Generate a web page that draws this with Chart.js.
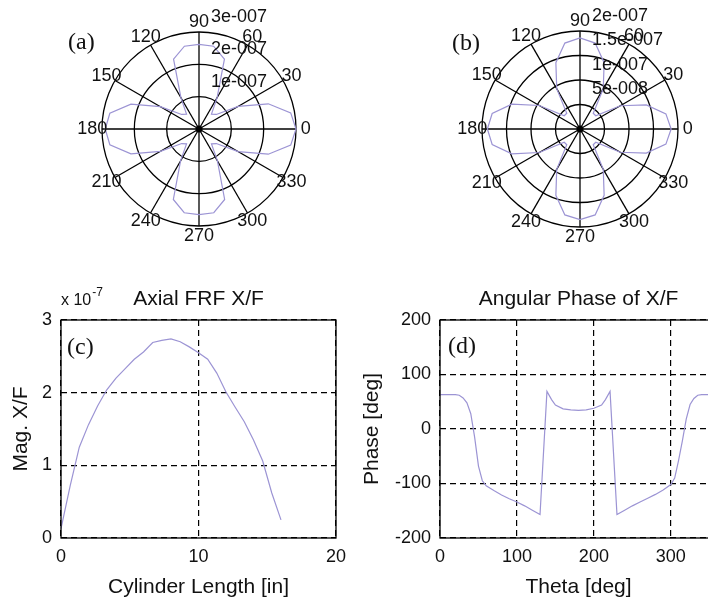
<!DOCTYPE html>
<html>
<head>
<meta charset="utf-8">
<title>Cylinder FRF</title>
<script src="https://cdn.jsdelivr.net/npm/chart.js@4.4.1/dist/chart.umd.min.js"></script>
<style>
  html, body { margin: 0; padding: 0; background: #fff; overflow: hidden; }
  #page { position: relative; width: 708px; height: 604px; overflow: hidden; background: #fff; }
  #page canvas { position: absolute; }
</style>
</head>
<body>
<div id="page">
  <canvas id="polarA" width="354" height="262" style="left:0;top:0"></canvas>
  <canvas id="polarB" width="354" height="262" style="left:354px;top:0"></canvas>
  <canvas id="axial" width="354" height="344" style="left:0;top:260px"></canvas>
  <canvas id="phase" width="366" height="344" style="left:354px;top:260px"></canvas>
</div>
<script>
// polar response, every 10 deg from 0 to 350, magnitude in units of 1e-7
const polarAngles = [0, 10, 20, 30, 40, 50, 60, 70, 80, 90, 100, 110, 120, 130, 140, 150, 160, 170,
  180, 190, 200, 210, 220, 230, 240, 250, 260, 270, 280, 290, 300, 310, 320, 330, 340, 350];
const polarMagA = [3.00, 2.88, 2.28, 1.40, 0.70, 0.60, 1.12, 2.30, 2.60, 2.62, 2.60, 2.30, 1.12, 0.60, 0.70, 1.38, 2.24, 2.80,
  2.90, 2.80, 2.24, 1.38, 0.70, 0.60, 1.14, 2.32, 2.63, 2.65, 2.63, 2.32, 1.14, 0.60, 0.70, 1.40, 2.28, 2.88];
const polarMagB = [1.86, 1.78, 1.44, 0.95, 0.42, 0.42, 0.95, 1.44, 1.78, 1.86, 1.78, 1.44, 0.95, 0.42, 0.42, 0.96, 1.48, 1.82,
  1.89, 1.82, 1.48, 0.96, 0.42, 0.42, 0.95, 1.44, 1.78, 1.85, 1.78, 1.44, 0.95, 0.42, 0.42, 0.95, 1.44, 1.78];
const angleLabels = [0, 30, 60, 90, 120, 150, 180, 210, 240, 270, 300, 330];
const radiusTicksA = [1, 2, 3];
const radiusLabelsA = ['1e-007', '2e-007', '3e-007'];
const radiusTicksB = [0.5, 1, 1.5, 2];
const radiusLabelsB = ['5e-008', '1e-007', '1.5e-007', '2e-007'];

// axial FRF magnitude along the cylinder (x 1e-7)
const cylLength = [0, 0.67, 1.33, 2.0, 2.67, 3.33, 4.0, 4.67, 5.33, 6.0, 6.67, 7.33, 8.0,
  8.67, 9.33, 10.0, 10.67, 11.33, 12.0, 12.67, 13.33, 14.0, 14.67, 15.33, 16.0];
const axialMag = [0.13, 0.72, 1.25, 1.56, 1.82, 2.04, 2.20, 2.33, 2.46, 2.56, 2.69, 2.72, 2.74,
  2.70, 2.63, 2.55, 2.46, 2.27, 2.01, 1.80, 1.60, 1.35, 1.06, 0.62, 0.25];
const axialExponent = '-7';
const lengthTicks = [0, 10, 20];
const magTicks = [0, 1, 2, 3];

// angular phase of X/F
const thetaDeg = [0, 10, 20, 25, 30, 35, 40, 45, 50, 55, 60, 70, 80, 90, 100, 110, 120, 130,
  139, 145, 150, 160, 170, 180, 190, 200, 210, 215, 221, 230, 240, 250, 260, 270, 280, 290,
  300, 305, 310, 315, 320, 325, 330, 335, 340, 350, 360];
const phaseDeg = [63, 63, 63, 62, 57, 48, 28, -15, -68, -95, -104, -113, -121, -128, -134, -141, -149, -157,
  69, 54, 44, 37, 35, 34, 35, 38, 44, 54, 69, -157, -149, -141, -134, -127, -120, -112,
  -102, -90, -58, -22, 18, 45, 56, 62, 63, 63, 63];
const thetaTicks = [0, 100, 200, 300];
const phaseTicks = [-200, -100, 0, 100, 200];

const lineColor = 'rgb(156, 148, 212)';
const ink = '#111';
const sans = '"Liberation Sans", Arial, Helvetica, sans-serif';
const numFont = { family: sans, size: 18 };
const wordFont = { family: sans, size: 21 };
const tagFont = '24px "Liberation Serif", "Times New Roman", serif';

// spokes, radius labels, angle labels and hub dot of a MATLAB style polar axes
const polarFurniture = {
  id: 'polarFurniture',
  afterDraw(chart, args, opts) {
    const r = chart.scales.r;
    const ctx = chart.ctx;
    ctx.save();
    ctx.fillStyle = '#000';
    ctx.beginPath();
    ctx.arc(r.xCenter, r.yCenter, 3.5, 0, Math.PI * 2);
    ctx.fill();

    ctx.fillStyle = ink;
    ctx.font = numFont.size + 'px ' + sans;
    ctx.textAlign = 'center';
    ctx.textBaseline = 'middle';
    chart.data.labels.forEach((deg, i) => {
      if (!angleLabels.includes(deg)) return;
      const p = r.getPointPosition(i, r.drawingArea * 1.1);
      ctx.fillText(String(deg), p.x, p.y);
    });

    ctx.textAlign = 'left';
    opts.ticks.forEach((v, k) => {
      const d = r.getDistanceFromCenterForValue(v);
      ctx.fillText(opts.labels[k], r.xCenter + 12, r.yCenter - d - 15);
    });

    ctx.font = tagFont;
    ctx.fillText(opts.tag, opts.tagX, opts.tagY);
    ctx.restore();
  }
};

function polarChart(id, mags, ticks, labels, pad, tag) {
  // the radar scale runs clockwise, so feed it 0, 350, 340 ... to get counter-clockwise angles
  const n = polarAngles.length;
  const order = polarAngles.map((a, i) => (n - i) % n);
  return new Chart(document.getElementById(id), {
    type: 'radar',
    data: {
      labels: order.map(i => polarAngles[i]),
      datasets: [{
        data: order.map(i => mags[i]),
        borderColor: lineColor,
        borderWidth: 1.2,
        pointRadius: 0,
        fill: false,
        tension: 0
      }]
    },
    options: {
      responsive: false,
      animation: false,
      layout: { padding: pad },
      plugins: {
        legend: { display: false },
        tooltip: { enabled: false },
        polarFurniture: { ticks, labels, tag: tag.text, tagX: tag.x, tagY: tag.y }
      },
      scales: {
        r: {
          min: 0,
          max: ticks[ticks.length - 1],
          startAngle: 90,
          afterBuildTicks: s => { s.ticks = [0, ...ticks].map(v => ({ value: v })); },
          ticks: { display: false },
          pointLabels: { display: false },
          grid: { circular: true, color: '#000', lineWidth: 1.3 },
          angleLines: { color: '#000', lineWidth: c => (c.index % 3 === 0 ? 1.3 : 0) }
        }
      }
    },
    plugins: [polarFurniture]
  });
}

// solid axes box, title, panel tag and the optional "x 10^n" multiplier
const boxFurniture = {
  id: 'boxFurniture',
  afterDraw(chart, args, opts) {
    const { ctx, chartArea: a } = chart;
    ctx.save();
    ctx.strokeStyle = '#000';
    ctx.lineWidth = 1.3;
    ctx.strokeRect(a.left, a.top, a.right - a.left, a.bottom - a.top);

    ctx.fillStyle = ink;
    ctx.font = wordFont.size + 'px ' + sans;
    ctx.textAlign = 'center';
    ctx.textBaseline = 'alphabetic';
    ctx.fillText(opts.title, (a.left + a.right) / 2, opts.titleY);

    if (opts.exponent) {
      ctx.textAlign = 'left';
      ctx.font = '16px ' + sans;
      ctx.fillText('x 10', a.left, opts.titleY);
      const w = ctx.measureText('x 10').width;
      ctx.font = '12px ' + sans;
      ctx.fillText(opts.exponent, a.left + w + 1, opts.titleY - 9.5);
    }

    ctx.font = tagFont;
    ctx.textAlign = 'left';
    ctx.textBaseline = 'middle';
    ctx.fillText(opts.tag, opts.tagX, opts.tagY);
    ctx.restore();
  }
};

function axisOpts(min, max, tickValues, title, titlePad, fitSize, horizontal) {
  return {
    type: 'linear',
    min,
    max,
    afterBuildTicks: s => { s.ticks = tickValues.map(v => ({ value: v })); },
    ticks: { font: numFont, color: ink, padding: horizontal ? 8 : 9 },
    grid: { color: '#000', lineWidth: 1.2, drawTicks: false },
    border: { display: false, dash: [6, 4] },
    title: { display: true, text: title, font: wordFont, color: ink, padding: titlePad },
    afterFit: s => { if (horizontal) s.height = fitSize; else s.width = fitSize; }
  };
}

function lineChart(id, xs, ys, o) {
  return new Chart(document.getElementById(id), {
    type: 'scatter',
    data: {
      datasets: [{
        data: xs.map((x, i) => ({ x, y: ys[i] })),
        showLine: true,
        borderColor: lineColor,
        borderWidth: 1.2,
        pointRadius: 0
      }]
    },
    options: {
      responsive: false,
      animation: false,
      layout: { padding: o.pad },
      plugins: {
        legend: { display: false },
        tooltip: { enabled: false },
        boxFurniture: o.furniture
      },
      scales: { x: o.x, y: o.y }
    },
    plugins: [boxFurniture]
  });
}

polarChart('polarA', polarMagA, radiusTicksA, radiusLabelsA,
  { left: 102, right: 58, top: 32, bottom: 36 }, { text: '(a)', x: 68, y: 43 });
polarChart('polarB', polarMagB, radiusTicksB, radiusLabelsB,
  { left: 128, right: 30, top: 31, bottom: 35 }, { text: '(b)', x: 98, y: 44 });

lineChart('axial', cylLength, axialMag, {
  pad: { left: 0, right: 17, top: 60, bottom: 0 },
  x: axisOpts(0, 20, lengthTicks, 'Cylinder Length [in]', { top: 0, bottom: 4 }, 66, true),
  y: axisOpts(0, 3, magTicks, 'Mag. X/F', { top: 9, bottom: 0 }, 61, false),
  furniture: { title: 'Axial FRF X/F', titleY: 45, exponent: axialExponent, tag: '(c)', tagX: 67, tagY: 88 }
});

lineChart('phase', thetaDeg, phaseDeg, {
  pad: { left: 0, right: 3, top: 60, bottom: 0 },
  x: axisOpts(0, 360, thetaTicks, 'Theta [deg]', { top: 0, bottom: 4 }, 66, true),
  y: axisOpts(-200, 200, phaseTicks, 'Phase [deg]', { top: 6, bottom: 0 }, 86, false),
  furniture: { title: 'Angular Phase of X/F', titleY: 45, tag: '(d)', tagX: 94, tagY: 87 }
});
</script>
</body>
</html>
